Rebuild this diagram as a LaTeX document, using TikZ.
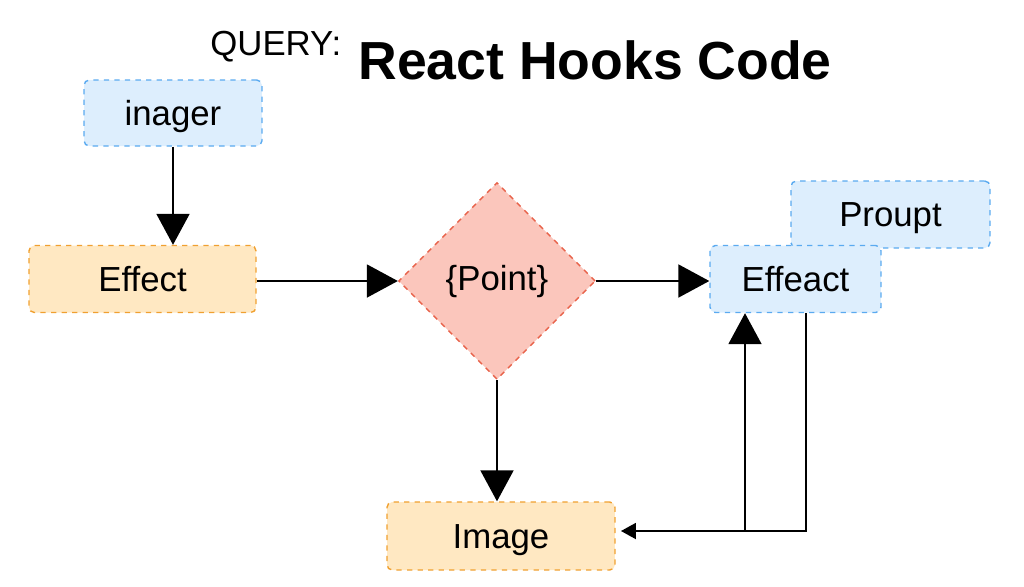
\documentclass[tikz,border=0pt]{standalone}
\usepackage{fontspec}
\setmainfont{Liberation Sans}
\usetikzlibrary{arrows.meta,shapes.geometric}

\definecolor{bluefill}{HTML}{DDEEFD}
\definecolor{blueline}{HTML}{5AAAF0}
\definecolor{orangefill}{HTML}{FFE8C2}
\definecolor{orangeline}{HTML}{F0A030}
\definecolor{redfill}{HTML}{FBC6BC}
\definecolor{redline}{HTML}{E8624A}

\begin{document}
\begin{tikzpicture}[x=0.02cm, y=-0.02cm,
  box/.style={rectangle, rounded corners=3pt, dashed, line width=0.8pt, inner sep=0pt,
    text height=14pt, text depth=0pt, font=\fontsize{19.8}{24}\selectfont},
  bluebox/.style={box, draw=blueline, fill=bluefill},
  orangebox/.style={box, draw=orangeline, fill=orangefill},
  bigarrow/.style={line width=1.1pt, -{Triangle[length=0.62cm,width=0.66cm]}},
  smallarrow/.style={line width=1.1pt, -{Triangle[length=0.3cm,width=0.32cm]}}]
\useasboundingbox (0,0) rectangle (1024,586);

\node[anchor=base west, inner sep=0pt, font=\fontsize{19.8}{24}\selectfont] (query) at (210,55) {QUERY:};
\node[anchor=base west, inner sep=0pt, font=\fontsize{30.5}{36}\selectfont\bfseries] (title) at (358,79) {React Hooks Code};

\node[bluebox, minimum width=3.56cm, minimum height=1.32cm] (imager) at (173,113) {inager};
\node[orangebox, minimum width=4.54cm, minimum height=1.34cm] (Effect) at (142.5,279) {Effect};
\node[diamond, draw=redline, fill=redfill, dashed, line width=0.8pt, inner sep=0pt,
  minimum width=3.94cm, minimum height=3.94cm, font=\fontsize{19.8}{24}\selectfont] (Point) at (497,281) {\{Point\}};
\node[bluebox, minimum width=3.98cm, minimum height=1.34cm] (Proupt) at (890.5,214.5) {Proupt};
\node[bluebox, minimum width=3.42cm, minimum height=1.34cm] (Effeact) at (795.5,279) {Effeact};
\node[orangebox, minimum width=4.56cm, minimum height=1.36cm] (Image) at (501,536) {Image};

\coordinate (loopR) at (806,531);
\coordinate (loopL) at (745,531);

\draw[bigarrow] (imager.south) -- (imager.south |- Effect.north);
\draw[bigarrow] (Effect.east |- Point) -- (Point.west);
\draw[bigarrow] (Point.east) -- (Point.east -| Effeact.west);
\draw[bigarrow] (Point.south) -- (Point.south |- Image.north);
\draw[smallarrow] (Effeact.south -| loopR) -- (loopR) -- ([xshift=3pt]loopR -| Image.east);
\draw[bigarrow] (loopL) -- (loopL |- Effeact.south);
\end{tikzpicture}
\end{document}
